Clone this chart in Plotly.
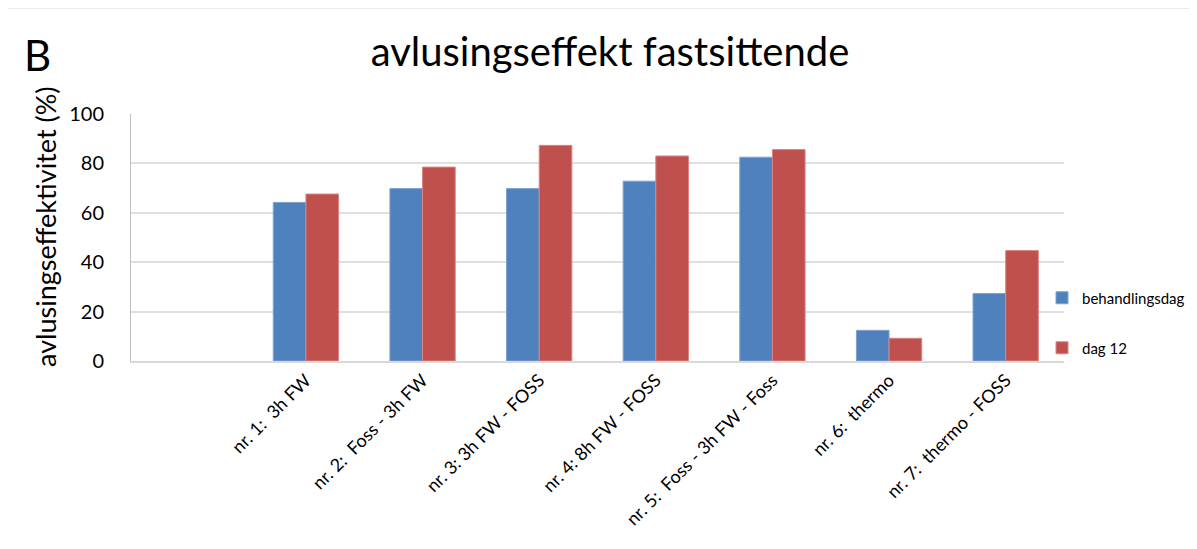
import plotly.graph_objects as go

categories = [" ", "nr. 1:\u00a0 3h FW", "nr. 2:\u00a0 Foss - 3h FW", "nr. 3: 3h FW - FOSS",
              "nr. 4: 8h FW - FOSS", "nr. 5:\u00a0 Foss - 3h FW - Foss", "nr. 6:\u00a0 thermo",
              "nr. 7:\u00a0 thermo - FOSS"]
behandlingsdag = [None, 64.2, 69.8, 69.8, 72.8, 82.5, 12.4, 27.3]
dag12 = [None, 67.6, 78.5, 87.3, 83.0, 85.6, 9.2, 44.7]
series_names = ["behandlingsdag", "dag 12"]
yticks = [0, 20, 40, 60, 80, 100]

FONT = "Lato"
OFF = 8  # default page body margin
W, H = 1197 - OFF, 549 - OFF
L, R, T, B = 131 - OFF, 1064 - OFF, 114 - OFF, 361 - OFF
pw, ph = R - L, B - T

def px(x):
    return (x - OFF - L) / pw

def py(y):
    return (B - (y - OFF)) / ph

def cx(x):
    return (x - OFF) / W

def cy(y):
    return 1 - (y - OFF) / H

fig = go.Figure()
fig.add_trace(go.Bar(x=categories, y=behandlingsdag, name=series_names[0],
                     marker=dict(color="#4F81BD", line=dict(color="#7FA2D0", width=1)),
                     legend="legend"))
fig.add_trace(go.Bar(x=categories, y=dag12, name=series_names[1],
                     marker=dict(color="#C0504D", line=dict(color="#D98583", width=1)),
                     legend="legend2"))

legend_common = dict(font=dict(family=FONT, size=15, color="#000000"),
                     bgcolor="rgba(0,0,0,0)", xanchor="left", yanchor="middle",
                     xref="container", yref="container",
                     itemwidth=30, borderwidth=0)

fig.update_layout(
    width=W, height=H,
    margin=dict(l=L, r=W - R, t=T, b=H - B, pad=0, autoexpand=False),
    paper_bgcolor="white", plot_bgcolor="white",
    barmode="group", bargap=0.44, bargroupgap=0,
    font=dict(family=FONT, color="#000000"),
    title=dict(text="avlusingseffekt fastsittende", x=cx(610), xref="container",
               xanchor="center", y=cy(52), yref="container", yanchor="middle",
               font=dict(family=FONT, size=40, color="#000000")),
    xaxis=dict(type="category", categoryorder="array", categoryarray=categories,
               range=[-0.5, len(categories) - 0.5], tickangle=-45,
               tickfont=dict(family=FONT, size=18, color="#000000"),
               showgrid=False, showline=True, linecolor="#D9D9D9", linewidth=1.5,
               ticks="", zeroline=False, automargin=False),
    yaxis=dict(range=[0, 100], tickvals=yticks, ticktext=[str(v) for v in yticks],
               tickfont=dict(family=FONT, size=20, color="#000000"),
               showgrid=True, gridcolor="#E0E0E0", gridwidth=1.5,
               showline=True, linecolor="#BFBFBF", linewidth=1, ticks="",
               ticklabelstandoff=22, zeroline=False, automargin=False),
    legend=dict(x=cx(1042), y=cy(298), **legend_common),
    legend2=dict(x=cx(1042), y=cy(348), **legend_common),
    showlegend=True,
    annotations=[
        dict(text="avlusingseffektivitet (%)", textangle=-90, x=px(45), y=py(227),
             xref="paper", yref="paper", xanchor="center", yanchor="middle",
             showarrow=False, font=dict(family=FONT, size=27, color="#000000")),
        dict(text="B", x=px(37), y=py(55), xref="paper", yref="paper",
             xanchor="center", yanchor="middle", showarrow=False,
             font=dict(family=FONT, size=42, color="#000000")),
    ],
    shapes=[
        dict(type="rect", xref="paper", yref="paper", x0=px(5), x1=px(1300),
             y0=py(600), y1=py(8), line=dict(color="#E3E3E3", width=1.5),
             fillcolor="rgba(0,0,0,0)", layer="below"),
    ],
)

fig.write_html("out.html")
